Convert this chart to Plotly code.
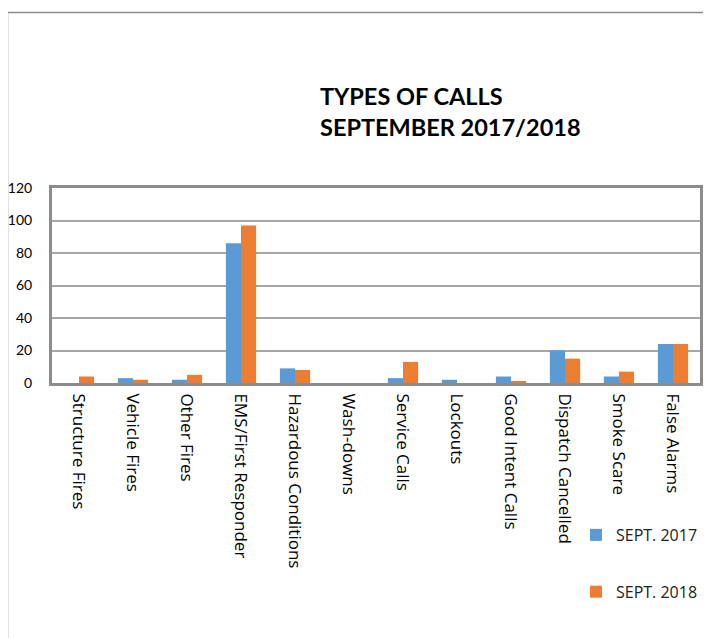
import plotly.graph_objects as go

categories = ["Structure Fires", "Vehicle Fires", "Other Fires", "EMS/First Responder",
              "Hazardous Conditions", "Wash-downs", "Service Calls", "Lockouts",
              "Good Intent Calls", "Dispatch Cancelled", "Smoke Scare", "False Alarms"]
sept_2017 = [0, 3, 2, 86, 9, 0, 3, 2, 4, 20, 4, 24]
sept_2018 = [4, 2, 5, 97, 8, 0, 13, 0, 1, 15, 7, 24]
y_ticks = [0, 20, 40, 60, 80, 100, 120]

# page body has an 8px margin; lay out in screen coordinates and shift
OFF = 8
W, H = 711 - OFF, 638 - OFF
# plot area in screen coords: x 52..700, y 188..383
SL, SR, ST, SB = 52, 700, 188, 383
L, T = SL - OFF, ST - OFF
R, B = W - (SR - OFF), H - (SB - OFF)
pw, ph = W - L - R, H - T - B

def px(x):
    return (x - OFF - L) / pw

def py(y):
    return ((SB - OFF) - (y - OFF)) / ph

fig = go.Figure()
fig.add_trace(go.Bar(x=categories, y=sept_2017, name="SEPT. 2017",
                     marker=dict(color="#5B9BD5", line=dict(width=0)), legendgroup="a"))
fig.add_trace(go.Bar(x=categories, y=sept_2018, name="SEPT. 2018",
                     marker=dict(color="#ED7D31", line=dict(width=0)), legendgroup="b"))

font = "Lato, Open Sans, sans-serif"
fig.update_layout(
    width=W, height=H,
    margin=dict(l=L, r=R, t=T, b=B, autoexpand=False),
    paper_bgcolor="white", plot_bgcolor="white",
    barmode="group", bargap=0.44, bargroupgap=0,
    font=dict(family=font, size=14, color="#000000"),
    showlegend=True,
    legend=dict(x=px(576), y=py(518), xanchor="left", yanchor="top",
                font=dict(family="Open Sans, sans-serif", size=16, color="#222"),
                tracegroupgap=33, itemwidth=30, bgcolor="rgba(0,0,0,0)"),
    xaxis=dict(tickangle=90, showline=True, linecolor="#8c8c8c", linewidth=3,
               mirror=True, ticks="", ticklabelstandoff=4,
               tickfont=dict(family="Open Sans, sans-serif", size=17, color="#000")),
    yaxis=dict(range=[0, 120], tickvals=y_ticks, showline=True, linecolor="#8c8c8c",
               linewidth=3, mirror=True, showgrid=True, gridcolor="#a6a6a6", gridwidth=2,
               zeroline=False, ticks="", ticklabelstandoff=14,
               tickfont=dict(size=14, color="#000")),
)

fig.add_annotation(text="<b>TYPES OF CALLS<br>SEPTEMBER 2017/2018</b>",
                   xref="paper", yref="paper", x=px(318), y=py(80),
                   xanchor="left", yanchor="top", align="left", showarrow=False,
                   font=dict(family=font, size=23.5, color="#000"))

fig.add_shape(type="rect", xref="paper", yref="paper",
              x0=px(7.5), y0=py(660), x1=px(730), y1=py(12.5),
              line=dict(color="#8c8c8c", width=1.5), layer="below")

fig.write_html("out.html")
